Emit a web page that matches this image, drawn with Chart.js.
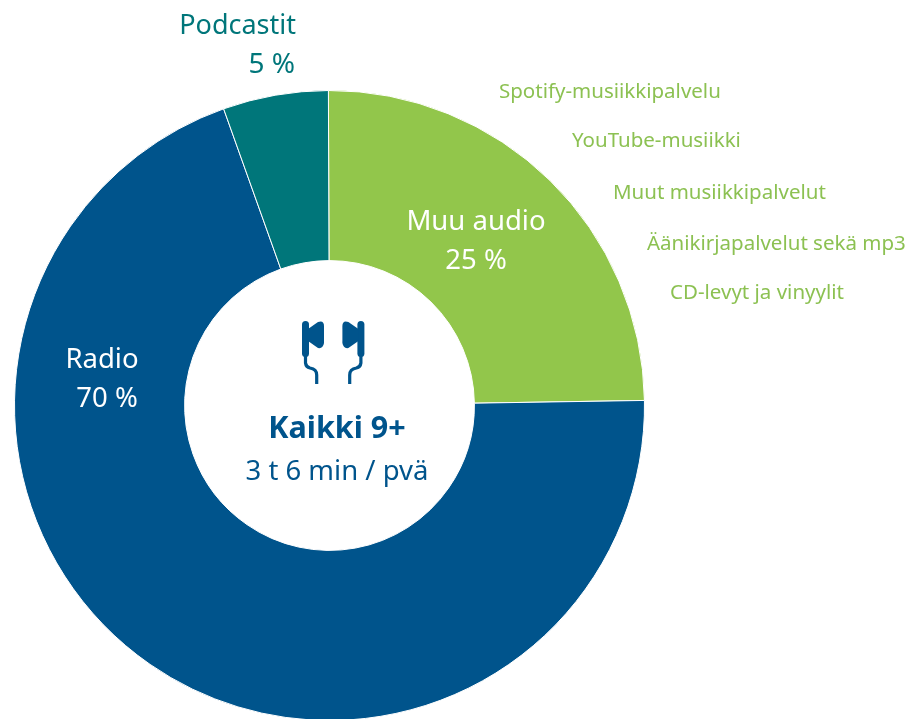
<!DOCTYPE html>
<html>
<head>
<meta charset="utf-8">
<title>Kaikki 9+</title>
<script src="https://cdn.jsdelivr.net/npm/chart.js@4/dist/chart.umd.min.js"></script>
<style>
    html, body { margin: 0; padding: 0; background: #fff; overflow: hidden; }
    #wrap { position: relative; width: 909px; height: 719px; overflow: hidden; }
</style>
</head>
<body>
<div id="wrap"><canvas id="audioChart" width="909" height="722"></canvas></div>
<script>
let categories = ["Muu audio", "Radio", "Podcastit"];
let shares = [24.8, 69.8, 5.4];
let shareLabels = ["25 %", "70 %", "5 %"];
let otherAudioItems = ["Spotify-musiikkipalvelu", "YouTube-musiikki", "Muut musiikkipalvelut", "Äänikirjapalvelut sekä mp3", "CD-levyt ja vinyylit"];
let centerTitle = "Kaikki 9+";
let centerSubtitle = "3 t 6 min / pvä";

const GREEN = "#92c64b";
const BLUE = "#00548c";
const TEAL = "#00767a";
const FONT = '"Noto Sans", sans-serif';

function put(ctx, text, x, y, size, color, align, weight) {
    ctx.font = (weight || "normal") + " " + size + "px " + FONT;
    ctx.fillStyle = color;
    ctx.textAlign = align;
    ctx.textBaseline = "middle";
    ctx.fillText(text, x, y);
}

function drawBud(ctx) {
    // left earphone, the right one is the same thing mirrored
    ctx.fillStyle = BLUE;
    ctx.strokeStyle = BLUE;
    ctx.lineWidth = 3.2;
    ctx.beginPath();
    ctx.roundRect(302, 321, 7, 36, 3.5);
    ctx.fill();
    ctx.beginPath();
    ctx.moveTo(308, 329);
    ctx.lineTo(318, 322);
    ctx.quadraticCurveTo(324, 320, 324, 326);
    ctx.lineTo(324, 343);
    ctx.quadraticCurveTo(323, 349, 318, 348);
    ctx.lineTo(308, 341);
    ctx.closePath();
    ctx.fill();
    ctx.beginPath();
    ctx.moveTo(305.5, 356);
    ctx.lineTo(305.5, 363);
    ctx.quadraticCurveTo(306, 367, 310, 368);
    ctx.quadraticCurveTo(316.7, 369, 316.7, 375);
    ctx.lineTo(316.7, 384);
    ctx.stroke();
}

const textPlugin = {
    id: "textPlugin",
    afterDraw(chart) {
        let ctx = chart.ctx;
        ctx.save();

        put(ctx, categories[0], 476, 222, 27.5, "#fff", "center");
        put(ctx, shareLabels[0], 476, 261, 27.5, "#fff", "center");
        put(ctx, categories[1], 102, 360, 27.5, "#fff", "center");
        put(ctx, shareLabels[1], 107, 399, 27.5, "#fff", "center");
        put(ctx, categories[2], 296, 26, 27, TEAL, "right");
        put(ctx, shareLabels[2], 295, 65, 28, TEAL, "right");

        let itemX = [499, 572, 613, 647, 670];
        let itemY = [92, 141, 193, 244, 293];
        otherAudioItems.forEach((item, i) => {
            put(ctx, item, itemX[i], itemY[i], 20.5, "#8cc152", "left");
        });

        put(ctx, centerTitle, 337, 429, 30.5, BLUE, "center", "bold");
        put(ctx, centerSubtitle, 337, 472, 27.5, BLUE, "center");

        drawBud(ctx);
        ctx.translate(333.2 * 2, 0);
        ctx.scale(-1, 1);
        drawBud(ctx);

        ctx.restore();
    }
};

new Chart(document.getElementById("audioChart"), {
    type: "doughnut",
    data: {
        labels: categories,
        datasets: [{
            data: shares,
            backgroundColor: [GREEN, BLUE, TEAL],
            borderColor: "#fff",
            borderWidth: 1,
            hoverOffset: 0
        }]
    },
    options: {
        responsive: false,
        animation: false,
        cutout: "46%",
        rotation: -0.2,
        layout: { padding: { left: 14, right: 264, top: 90, bottom: 1 } },
        plugins: {
            legend: { display: false },
            tooltip: { enabled: false }
        }
    },
    plugins: [textPlugin]
});
</script>
</body>
</html>
